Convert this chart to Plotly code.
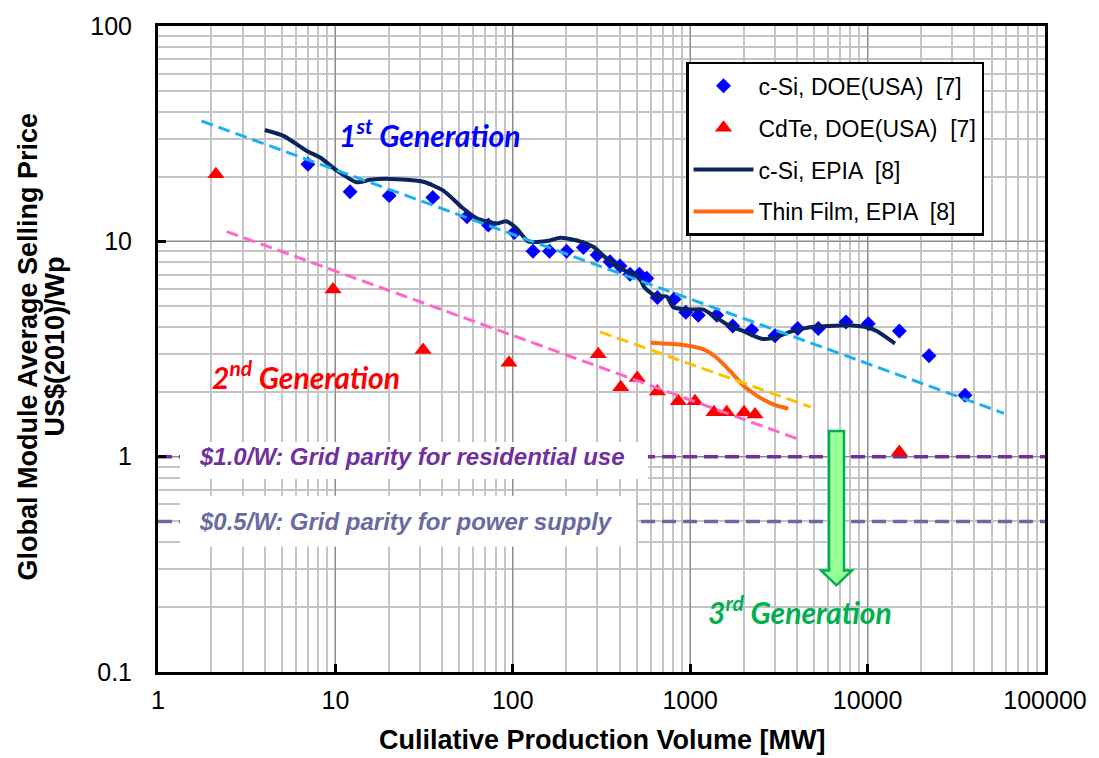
import plotly.graph_objects as go

# ---- data -------------------------------------------------------------
# c-Si module prices, DOE (USA) [7]
csi_doe_x = [7.0, 12.1, 20.1, 35.4, 55.2, 72.8, 102, 130, 161, 201, 250, 299, 353, 402,
             458, 517, 569, 653, 811, 944, 1111, 1410, 1737, 2222, 3006, 4036, 5275,
             7552, 10090, 15100, 22200, 35400]
csi_doe_y = [22.8, 17.0, 16.3, 16.0, 13.0, 11.9, 11.0, 9.0, 9.0, 9.0, 9.36, 8.64, 8.04, 7.69,
             7.03, 7.03, 6.74, 5.49, 5.39, 4.68, 4.54, 4.54, 4.04, 3.87, 3.64, 3.94, 3.94,
             4.22, 4.14, 3.83, 2.94, 1.93]

# CdTe module prices, DOE (USA) [7]
cdte_x = [2.12, 9.7, 31.2, 95.2, 303, 406, 503, 653, 857, 1064, 1362, 1606, 2011, 2318, 15100]
cdte_y = [20.5, 5.98, 3.13, 2.73, 2.99, 2.10, 2.32, 2.01, 1.81, 1.81, 1.61, 1.61, 1.61, 1.57, 1.05]

# c-Si learning curve, EPIA [8]
csi_epia_x = [4.0, 5.1, 6.9, 8.2, 10.2, 13.2, 15.7, 20.3, 31.3, 40.6, 52.6, 62.6, 81.2, 91.6,
              105, 122, 162, 185, 239, 284, 338, 420, 510, 556, 648, 738, 803, 997, 1188,
              1410, 1676, 1992, 2530, 3006, 3653, 4733, 5876, 7625, 9886, 11250, 14270]
csi_epia_y = [32.9, 30.9, 26.3, 24.5, 21.3, 18.8, 19.3, 19.5, 18.9, 17.2, 14.2, 12.8, 12.1, 12.4,
              11.5, 10.0, 10.1, 10.4, 10.0, 9.43, 8.33, 7.37, 6.86, 6.06, 5.55, 5.55, 4.94, 4.82,
              4.82, 4.41, 4.04, 3.83, 3.53, 3.57, 3.80, 3.99, 4.04, 4.08, 3.99, 3.83, 3.35]

# Thin film learning curve, EPIA [8]
tf_epia_x = [599, 915, 1188, 1410, 1676, 1992, 2371, 2941, 3573]
tf_epia_y = [3.38, 3.30, 3.15, 2.88, 2.50, 2.14, 1.92, 1.75, 1.67]

# Trend lines (start / end)
trend_csi_x = [1.76, 58700]
trend_csi_y = [36.2, 1.59]
trend_cdte_x = [2.44, 4250]
trend_cdte_y = [11.1, 1.19]
trend_tf_x = [310, 4780]
trend_tf_y = [3.80, 1.70]

# Grid parity levels
parity_x = [1, 100000]
parity_residential = [1.0, 1.0]
parity_power = [0.5, 0.5]

x_tickvals = [1, 10, 100, 1000, 10000, 100000]
x_ticktext = ["1", "10", "100", "1000", "10000", "100000"]
y_tickvals = [0.1, 1, 10, 100]
y_ticktext = ["0.1", "1", "10", "100"]

# ---- figure -----------------------------------------------------------
ARIAL = "Liberation Sans, Arial, sans-serif"
GEN_FONT = "Lato, Carlito, Calibri, sans-serif"

fig = go.Figure()

# grid parity reference lines
fig.add_trace(go.Scatter(x=parity_x, y=parity_residential, mode="lines", showlegend=False,
                         hoverinfo="skip",
                         line=dict(color="#7030A0", width=3.5, dash="14px,7px")))
fig.add_trace(go.Scatter(x=parity_x, y=parity_power, mode="lines", showlegend=False,
                         hoverinfo="skip",
                         line=dict(color="#6A6AA2", width=3.5, dash="14px,7px")))

fig.add_trace(go.Scatter(x=csi_doe_x, y=csi_doe_y, mode="markers", name="c-Si, DOE(USA)  [7]",
                         legendgroup="a",
                         marker=dict(symbol="diamond", size=11.5, color="#0000FF")))
fig.add_trace(go.Scatter(x=cdte_x, y=cdte_y, mode="markers", name="CdTe, DOE(USA)  [7]",
                         legendgroup="b",
                         marker=dict(symbol="triangle-up", size=15, color="#FF0000")))
fig.add_trace(go.Scatter(x=csi_epia_x, y=csi_epia_y, mode="lines", name="c-Si, EPIA  [8]",
                         legendgroup="c",
                         line=dict(color="#0B2460", width=4, shape="spline", smoothing=0.6)))
fig.add_trace(go.Scatter(x=tf_epia_x, y=tf_epia_y, mode="lines", name="Thin Film, EPIA  [8]",
                         legendgroup="d",
                         line=dict(color="#FF6A10", width=4, shape="spline", smoothing=0.6)))

# trend lines
for tx, ty, col in [(trend_csi_x, trend_csi_y, "#1AB2EE"),
                    (trend_cdte_x, trend_cdte_y, "#FF66CC"),
                    (trend_tf_x, trend_tf_y, "#FFC000")]:
    fig.add_trace(go.Scatter(x=tx, y=ty, mode="lines", showlegend=False, hoverinfo="skip",
                             line=dict(color=col, width=3, dash="12px,6px")))

# plot area in pixels: left 158, right 1045, top 23, bottom 672
L, R, T, B = 158, 1045, 23, 672


def px(xp):
    return (xp - L) / (R - L)


def py(yp):
    return (B - yp) / (B - T)


shapes = [
    # white label backgrounds
    dict(type="rect", xref="paper", yref="paper", x0=px(180), x1=px(648), y0=py(478), y1=py(441),
         fillcolor="white", line=dict(width=0), layer="above"),
    dict(type="rect", xref="paper", yref="paper", x0=px(180), x1=px(636), y0=py(546), y1=py(495),
         fillcolor="white", line=dict(width=0), layer="above"),
]
# downward arrow toward 3rd generation
ax = [829, 844, 844, 852, 836.5, 821, 829]
ay = [430, 430, 570, 570, 585, 570, 570]
path = "M " + " L ".join(f"{px(a):.4f},{py(b):.4f}" for a, b in zip(ax, ay)) + " Z"
shapes.append(dict(type="path", xref="paper", yref="paper", path=path,
                   fillcolor="#99FF99", line=dict(color="#00B050", width=2.5), layer="above"))


def label(text, x, y, font, **kw):
    d = dict(text=text, x=x, y=y, xref="paper", yref="paper", xanchor="center",
             yanchor="middle", showarrow=False, font=font)
    d.update(kw)
    return d


annotations = [
    label("$1.0/W: Grid parity for residential use", px(197), py(456),
          dict(family=ARIAL, size=24, color="#7030A0", weight="bold", style="italic"),
          xanchor="left"),
    label("$0.5/W: Grid parity for power supply", px(197), py(521),
          dict(family=ARIAL, size=24, color="#6A6AA2", weight="bold", style="italic"),
          xanchor="left"),
    label("1<sup>st</sup> Generation", px(429), py(130),
          dict(family=GEN_FONT, size=30, color="#0000FF", weight="bold", style="italic")),
    label("2<sup>nd</sup> Generation", px(306), py(374),
          dict(family=GEN_FONT, size=30, color="#FF0000", weight="bold", style="italic")),
    label("3<sup>rd</sup> Generation", px(800), py(610),
          dict(family=GEN_FONT, size=30, color="#00B050", weight="bold", style="italic")),
    # y-axis title, two lines
    label("Global Module Average Selling Price", px(28), py(345),
          dict(family=ARIAL, size=27, color="black", weight="bold"), textangle=-90),
    label("US$(2010)/Wp", px(55), py(345),
          dict(family=ARIAL, size=27, color="black", weight="bold"), textangle=-90),
    # x-axis title
    label("Culilative Production Volume [MW]", px(602), py(740),
          dict(family=ARIAL, size=27, color="black", weight="bold")),
]

axis_common = dict(
    type="log",
    showline=True, linecolor="black", linewidth=3, mirror=True,
    ticks="inside", ticklen=8, tickwidth=2.5, tickcolor="black",
    showgrid=True, gridcolor="#8C8C8C", gridwidth=1,
    tickfont=dict(family=ARIAL, size=25, color="black"),
    zeroline=False,
    minor=dict(dtick="D1", showgrid=True, gridcolor="#C4C4C4", gridwidth=1.5, ticks=""),
)

fig.update_layout(
    width=1099, height=758,
    margin=dict(l=L, r=1099 - R, t=T, b=758 - B),
    paper_bgcolor="white", plot_bgcolor="white",
    xaxis=dict(axis_common, range=[0, 5], tickmode="array", tickvals=x_tickvals,
               ticktext=x_ticktext, ticklabelstandoff=4),
    yaxis=dict(axis_common, range=[-1, 2], tickmode="array", tickvals=y_tickvals,
               ticktext=y_ticktext, ticklabelstandoff=18),
    legend=dict(x=px(686), y=py(59), xanchor="left", yanchor="top",
                bgcolor="white", bordercolor="black", borderwidth=2.5,
                font=dict(family=ARIAL, size=23, color="black"),
                traceorder="grouped", tracegroupgap=9, itemwidth=60),
    shapes=shapes,
    annotations=annotations,
)

fig.write_html("out.html")
